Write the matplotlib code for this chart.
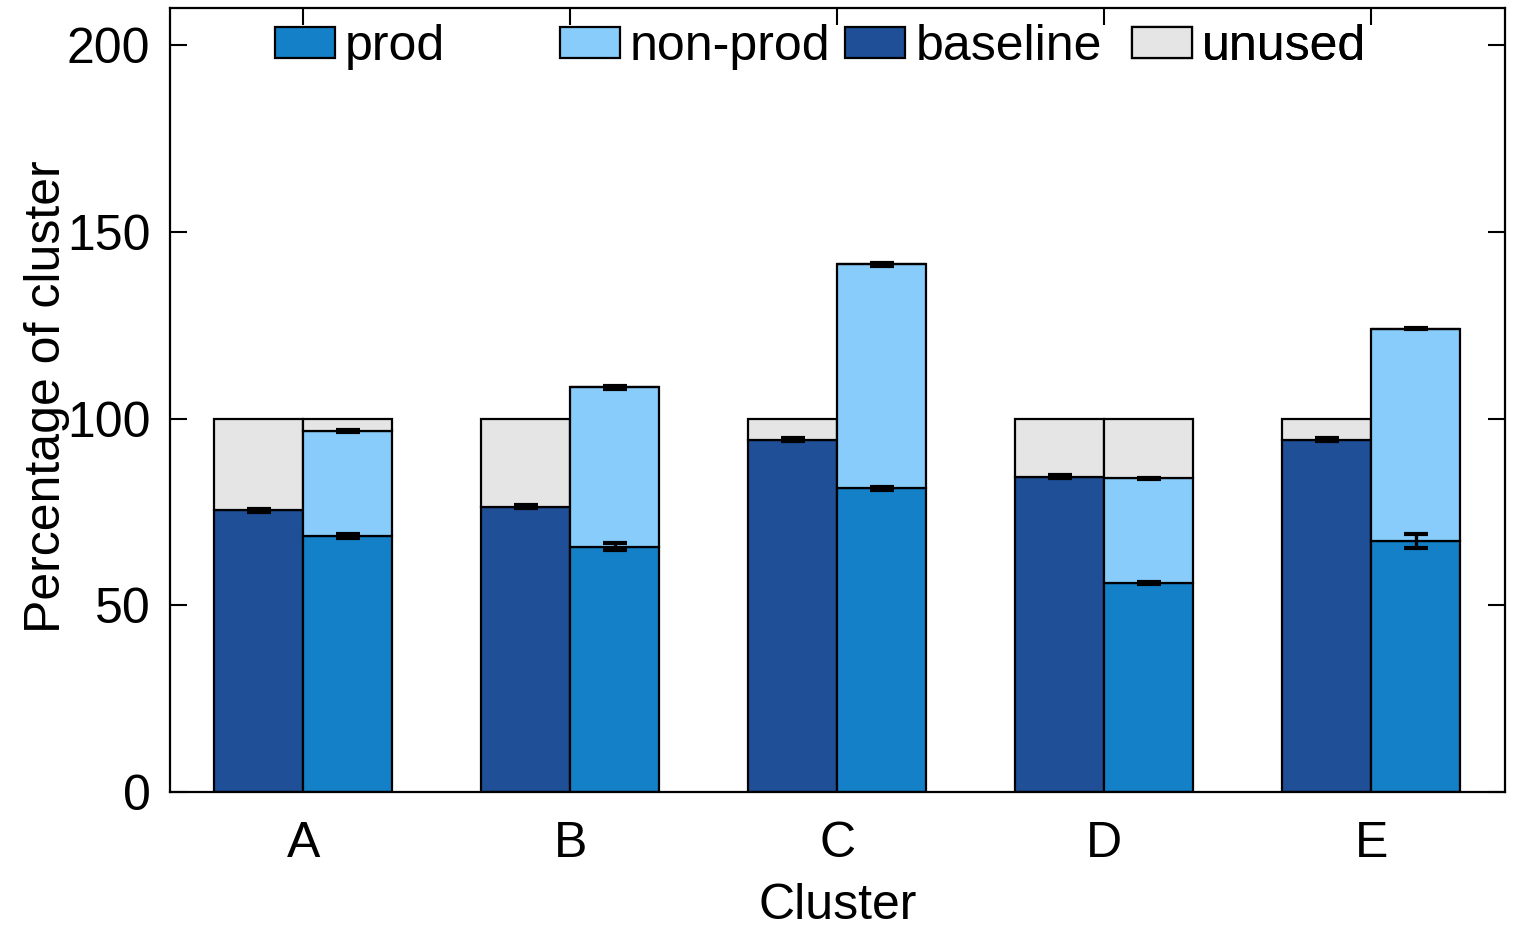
import numpy as np
import matplotlib
matplotlib.use("Agg")
import matplotlib.pyplot as plt
from matplotlib.patches import Patch

plt.rcParams['font.family'] = ['Liberation Sans', 'DejaVu Sans']

clusters = ['A', 'B', 'C', 'D', 'E']
baseline = [75.5, 76.4, 94.4, 84.4, 94.4]
prod = [68.5, 65.7, 81.3, 56.0, 67.2]
prod_total = [96.7, 108.4, 141.3, 84.0, 124.1]   # prod + non-prod
baseline_err = [0.4, 0.4, 0.4, 0.4, 0.4]
prod_err = [0.5, 1.0, 0.4, 0.3, 1.8]
total_err = [0.3, 0.4, 0.3, 0.2, 0.2]

colores = {
    'prod': '#1380c8',
    'non-prod': '#87ccfa',
    'baseline': '#1f4f96',
    'unused': '#e5e5e5',
}

x = np.arange(len(clusters))
ancho = 1 / 3
borde = dict(edgecolor='black', linewidth=1.6)

fig = plt.figure(figsize=(15.16, 9.31), dpi=100)
ax = fig.add_axes([0.1121, 0.1493, 0.8806, 0.8421])

base = np.array(baseline)
pr = np.array(prod)
tot = np.array(prod_total)
unused_izq = np.clip(100 - base, 0, None)
unused_der = np.clip(100 - tot, 0, None)

xb = x - ancho / 2
xp = x + ancho / 2

ax.bar(xb, base, ancho, color=colores['baseline'], **borde, zorder=2)
ax.bar(xb, unused_izq, ancho, bottom=base, color=colores['unused'], **borde, zorder=2)
ax.bar(xp, pr, ancho, color=colores['prod'], **borde, zorder=2)
ax.bar(xp, tot - pr, ancho, bottom=pr, color=colores['non-prod'], **borde, zorder=2)
ax.bar(xp, unused_der, ancho, bottom=tot, color=colores['unused'], **borde, zorder=2)

estilo_err = dict(fmt='none', ecolor='black', elinewidth=2.4, capsize=8.6,
                  capthick=3.0, zorder=3)
ax.errorbar(xb, base, yerr=baseline_err, **estilo_err)
ax.errorbar(xp, pr, yerr=prod_err, **estilo_err)
ax.errorbar(xp, tot, yerr=total_err, **estilo_err)

ax.set_xlim(-0.5, 4.5)
ax.set_ylim(0, 210)
ax.set_yticks([0, 50, 100, 150, 200])
ax.set_xticks(x)
ax.set_xticklabels(clusters)
ax.tick_params(direction='in', length=12, width=1.5, labelsize=36,
               top=True, right=True)
ax.tick_params(axis='y', pad=14)
ax.tick_params(axis='x', pad=21)
for s in ax.spines.values():
    s.set_linewidth(1.6)

ax.set_xlabel('Cluster', fontsize=36)
ax.set_ylabel('Percentage of cluster', fontsize=36)
ax.yaxis.set_label_coords(-0.075, 0.504)
ax.xaxis.set_label_coords(0.5, -0.116)

nombres = ['prod', 'non-prod', 'baseline', 'unused']
pos_ley = [0.0787, 0.292, 0.506, 0.7206]
for nombre, px in zip(nombres, pos_ley):
    ley = ax.legend(handles=[Patch(facecolor=colores[nombre], edgecolor='black',
                                   linewidth=1.6, label=nombre)],
                    loc='center left', bbox_to_anchor=(px, 0.95),
                    frameon=False, fontsize=36, borderpad=0, borderaxespad=0,
                    handlelength=1.2, handleheight=0.6, handletextpad=0.2)
    ax.add_artist(ley)

fig.savefig('out.png', dpi=100)
